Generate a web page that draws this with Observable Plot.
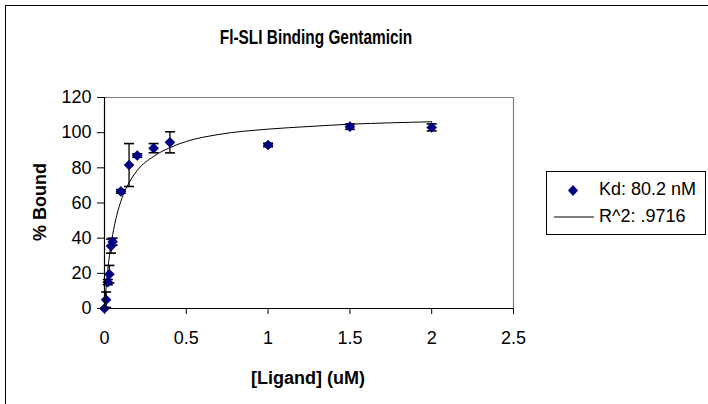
<!DOCTYPE html>
<html>
<head>
<meta charset="utf-8">
<script src="https://cdn.jsdelivr.net/npm/d3@7"></script>
<script src="https://cdn.jsdelivr.net/npm/@observablehq/plot@0.6"></script>
<style>
  html, body { margin: 0; padding: 0; background: #fff; overflow: hidden; }
  body { width: 708px; height: 404px; position: relative; font-family: "Liberation Sans", Arial, sans-serif; }
  #frame { position: absolute; left: 5px; top: 5px; width: 740px; height: 440px; border: 1px solid #000; box-sizing: border-box; }
  #chart { position: absolute; left: 0; top: 0; }
  .ovl { position: absolute; white-space: nowrap; color: #000; }
  #title { left: 316px; top: 26px; transform: translateX(-50%) scaleX(0.77); font-weight: bold; font-size: 20px; }
  #xtitle { left: 308px; top: 368px; transform: translateX(-50%); font-weight: bold; font-size: 18px; }
  #ytitle { left: 40px; top: 202px; transform: translate(-50%, -50%) rotate(-90deg); font-weight: bold; font-size: 18px; }
  #legend { left: 546px; top: 171px; width: 160px; height: 64px; border: 1px solid #000; box-sizing: border-box; background: #fff; }
  #legend .row { position: absolute; left: 0; font-size: 18px; }
</style>
</head>
<body>
<div id="frame"></div>
<div id="chart"></div>
<div id="title" class="ovl">Fl-SLI Binding Gentamicin</div>
<div id="xtitle" class="ovl">[Ligand] (uM)</div>
<div id="ytitle" class="ovl">% Bound</div>
<div id="legend" class="ovl"></div>
<script>
// Measured points: ligand concentration (uM), % bound, error (±)
const ligand = [0, 0.01, 0.02, 0.03, 0.04, 0.05, 0.1, 0.15, 0.2, 0.3, 0.4, 1.0, 1.5, 2.0];
const bound  = [0, 5, 15, 19.5, 35.5, 38, 66.6, 81.6, 87, 91.2, 94.5, 93, 103.4, 103];
const errors = [0, 4.4, 1.5, 5, 4, 2, 1, 12.2, 1, 2.6, 6, 1, 1.5, 2];

// Fitted curve
const curveX = [0, 0.01, 0.02, 0.03, 0.04, 0.05, 0.075, 0.1, 0.15, 0.2, 0.3, 0.4, 0.5, 0.7, 1.0, 1.25, 1.5, 1.75, 2.0];
const curveY = [0, 12, 22, 30, 36.5, 42, 53, 61, 71.5, 78.5, 86.5, 91.5, 95, 99, 102, 103.5, 104.8, 105.6, 106.2];

const xTicks = [0, 0.5, 1, 1.5, 2, 2.5];
const yTicks = [0, 20, 40, 60, 80, 100, 120];
const legendLabels = ["Kd: 80.2 nM", "R^2: .9716"];

const pts = ligand.map((x, i) => ({x, y: bound[i], lo: bound[i] - errors[i], hi: bound[i] + errors[i]}));
const bars = pts.filter(d => d.hi > d.lo);
const fit = curveX.map((x, i) => ({x, y: curveY[i]}));

const capSymbol = {
  draw(ctx, size) {
    const r = Math.sqrt(size / Math.PI);
    ctx.moveTo(-r, 0);
    ctx.lineTo(r, 0);
  }
};

const plot = Plot.plot({
  width: 708,
  height: 404,
  marginLeft: 104,
  marginRight: 195,
  marginTop: 97,
  marginBottom: 96,
  style: {fontFamily: "Liberation Sans, Arial, sans-serif", fontSize: "18px", background: "transparent", overflow: "visible"},
  x: {domain: [0, 2.5], ticks: xTicks, tickFormat: d => String(d), label: null},
  y: {domain: [0, 120], ticks: yTicks, tickFormat: d => String(d), label: null},
  marks: [
    Plot.axisX({ticks: xTicks, tickSize: 6, tickPadding: 17, tickFormat: d => String(d), label: null, fontSize: 18}),
    Plot.axisY({ticks: yTicks, tickSize: 7, tickPadding: 6, tickFormat: d => String(d), label: null, fontSize: 18}),
    Plot.ruleY([120], {stroke: "#808080", strokeWidth: 1.2}),
    Plot.ruleX([2.5], {stroke: "#808080", strokeWidth: 1.2}),
    Plot.line(fit, {x: "x", y: "y", stroke: "#000", strokeWidth: 1, curve: "monotone-x"}),
    Plot.ruleX(bars, {x: "x", y1: "lo", y2: "hi", stroke: "#000", strokeWidth: 1.3}),
    Plot.dot(bars, {x: "x", y: "lo", symbol: capSymbol, r: 5, stroke: "#000", strokeWidth: 1.6, fill: "none"}),
    Plot.dot(bars, {x: "x", y: "hi", symbol: capSymbol, r: 5, stroke: "#000", strokeWidth: 1.6, fill: "none"}),
    Plot.dot(pts, {x: "x", y: "y", symbol: "diamond2", r: 4.8, fill: "#000080", stroke: "none"}),
    Plot.ruleY([0], {stroke: "#000", strokeWidth: 1.2}),
    Plot.ruleX([0], {stroke: "#000", strokeWidth: 1.2})
  ]
});
document.getElementById("chart").appendChild(plot);

// Legend
const lg = document.getElementById("legend");
lg.innerHTML = `
  <svg width="158" height="62" style="position:absolute;left:0;top:0">
    <path d="M26,13 L31,18.5 L26,24 L21,18.5 Z" fill="#000080"/>
    <line x1="7" y1="45" x2="47" y2="45" stroke="#000" stroke-width="1"/>
  </svg>
  <div class="row" style="left:52px;top:7px">${legendLabels[0]}</div>
  <div class="row" style="left:52px;top:34px">${legendLabels[1]}</div>`;
</script>
</body>
</html>
